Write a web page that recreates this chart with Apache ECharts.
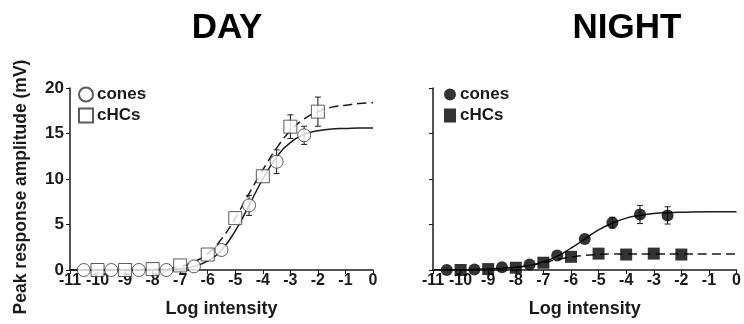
<!DOCTYPE html>
<html lang="en">
<head>
    <meta charset="UTF-8">
    <title>Day / Night response amplitude</title>
    <style>
        html, body { margin: 0; padding: 0; background: #fff; }
        #chart { width: 744px; height: 324px; }
    </style>
</head>
<body>
<div id="chart"></div>
<script src="https://cdn.jsdelivr.net/npm/echarts@6/dist/echarts.min.js"></script>
<script type="text/javascript">

    // DAY - measured points
    var dayConeX = [-10.5, -9.5, -8.5, -7.5, -6.5, -5.5, -4.5, -3.5, -2.5];
    var dayConeY = [0, 0, 0, 0, 0.4, 2.2, 7.1, 11.9, 14.8];
    var dayConeErr = [0, 0, 0, 0, 0, 0, 1.1, 1.3, 1.0];
    var dayHcX = [-10, -9, -8, -7, -6, -5, -4, -3, -2];
    var dayHcY = [0, 0, 0.1, 0.5, 1.7, 5.7, 10.3, 15.75, 17.4];
    var dayHcErr = [0, 0, 0, 0, 0, 0, 0, 1.3, 1.6];

    // DAY - fitted curves
    var dayConeFitX = [-11, -10, -9, -8, -7.5, -7, -6.5, -6, -5.5, -5, -4.5, -4, -3.5, -3, -2.5, -2, -1.5, -1, -0.5, 0];
    var dayConeFitY = [0, 0, 0, 0.02, 0.05, 0.15, 0.4, 1.0, 2.2, 4.3, 7.1, 10.0, 12.4, 14.0, 14.9, 15.3, 15.5, 15.55, 15.6, 15.6];
    var dayHcFitX = [-11, -10, -9, -8, -7.5, -7, -6.5, -6, -5.5, -5, -4.5, -4, -3.5, -3, -2.5, -2, -1.5, -1, -0.5, 0];
    var dayHcFitY = [0, 0, 0.02, 0.08, 0.15, 0.4, 0.9, 1.8, 3.4, 5.7, 8.4, 11.0, 13.4, 15.3, 16.6, 17.4, 17.9, 18.1, 18.3, 18.4];

    // NIGHT - measured points
    var nightConeX = [-10.5, -9.5, -8.5, -7.5, -6.5, -5.5, -4.5, -3.5, -2.5];
    var nightConeY = [0, 0.05, 0.3, 0.6, 1.6, 3.4, 5.2, 6.1, 6.0];
    var nightConeErr = [0, 0, 0, 0, 0, 0, 0.6, 1.0, 0.95];
    var nightHcX = [-10, -9, -8, -7, -6, -5, -4, -3, -2];
    var nightHcY = [0, 0.1, 0.25, 0.8, 1.45, 1.8, 1.7, 1.8, 1.7];

    // NIGHT - fitted curves
    var nightConeFitX = [-11, -10, -9, -8, -7.5, -7, -6.5, -6, -5.5, -5, -4.5, -4, -3.5, -3, -2.5, -2, -1, 0];
    var nightConeFitY = [0, 0.02, 0.1, 0.3, 0.5, 0.9, 1.5, 2.4, 3.4, 4.4, 5.15, 5.7, 6.0, 6.2, 6.3, 6.35, 6.4, 6.4];
    var nightHcFitX = [-11, -10, -9, -8, -7.5, -7, -6.5, -6, -5.5, -5, -4.5, -4, -3, -2, -1, 0];
    var nightHcFitY = [0, 0.02, 0.1, 0.3, 0.5, 0.8, 1.15, 1.4, 1.6, 1.7, 1.75, 1.75, 1.75, 1.75, 1.75, 1.75];

    var titles = ['DAY', 'NIGHT'];
    var yName = 'Peak response amplitude (mV)';
    var xName = 'Log intensity';

    var FONT = '"Liberation Sans", Arial, sans-serif';
    var INK = '#1a1a1a';

    function pairs(xs, ys) {
        return xs.map(function (x, i) { return [x, ys[i]]; });
    }
    function errData(xs, ys, es) {
        var out = [];
        xs.forEach(function (x, i) {
            if (es[i] > 0) out.push([x, ys[i] - es[i], ys[i] + es[i]]);
        });
        return out;
    }

    function errSeries(idx, data) {
        return {
            type: 'custom',
            xAxisIndex: idx, yAxisIndex: idx,
            data: data,
            silent: true,
            z: 3,
            renderItem: function (params, api) {
                var lo = api.coord([api.value(0), api.value(1)]);
                var hi = api.coord([api.value(0), api.value(2)]);
                var cap = 3;
                var st = { stroke: INK, lineWidth: 1 };
                return {
                    type: 'group',
                    children: [
                        { type: 'line', shape: { x1: lo[0], y1: lo[1], x2: hi[0], y2: hi[1] }, style: st },
                        { type: 'line', shape: { x1: lo[0] - cap, y1: lo[1], x2: lo[0] + cap, y2: lo[1] }, style: st },
                        { type: 'line', shape: { x1: hi[0] - cap, y1: hi[1], x2: hi[0] + cap, y2: hi[1] }, style: st }
                    ]
                };
            }
        };
    }

    function fitSeries(idx, data, dashed) {
        return {
            type: 'line',
            xAxisIndex: idx, yAxisIndex: idx,
            data: data,
            smooth: true,
            symbol: 'none',
            silent: true,
            z: 2,
            lineStyle: { color: INK, width: 1.5, type: dashed ? [9, 5] : 'solid' }
        };
    }

    function xAxisOf(idx) {
        return {
            type: 'value', gridIndex: idx,
            min: -11, max: 0, interval: 1,
            name: xName, nameLocation: 'middle', nameGap: 30,
            nameTextStyle: { fontFamily: FONT, fontWeight: 'bold', fontSize: 18, color: INK },
            axisLine: { onZero: false, lineStyle: { color: INK, width: 1.5 } },
            axisTick: { length: 4, lineStyle: { color: INK, width: 1 } },
            axisLabel: { fontFamily: FONT, fontWeight: 'bold', fontSize: 16, color: INK, margin: 3 },
            splitLine: { show: false }
        };
    }

    function yAxisOf(idx, labelled) {
        return {
            type: 'value', gridIndex: idx,
            min: 0, max: 20, interval: 5,
            position: 'left',
            name: labelled ? yName : '', nameLocation: 'middle', nameGap: 40,
            nameTextStyle: { fontFamily: FONT, fontWeight: 'bold', fontSize: 17.5, color: INK, padding: [0, 16, 0, 0] },
            axisLine: { show: true, onZero: false, lineStyle: { color: INK, width: 1.5 } },
            axisTick: { show: true, length: 4, lineStyle: { color: INK, width: 1 } },
            axisLabel: { show: labelled, fontFamily: FONT, fontWeight: 'bold', fontSize: 17, color: INK, margin: 6 },
            splitLine: { show: false }
        };
    }

    var chart = echarts.init(document.getElementById('chart'), null, { renderer: 'canvas' });
    chart.setOption({
        backgroundColor: '#fff',
        animation: false,
        title: [
            { text: titles[0], left: 222, top: 6, textAlign: 'center',
              textStyle: { fontFamily: FONT, fontWeight: 'bold', fontSize: 35, color: '#000' } },
            { text: titles[1], left: 622, top: 6, textAlign: 'center',
              textStyle: { fontFamily: FONT, fontWeight: 'bold', fontSize: 35, color: '#000' } }
        ],
        legend: [
            { data: ['day-cones', 'day-cHCs'], orient: 'vertical', left: 78, top: 86, padding: 0,
              itemWidth: 14, itemHeight: 14, itemGap: 4, selectedMode: false,
              formatter: function (n) { return n.replace('day-', ''); },
              textStyle: { fontFamily: FONT, fontWeight: 'bold', fontSize: 17, color: INK, padding: [0, 0, 0, -1] } },
            { data: ['night-cones', 'night-cHCs'], orient: 'vertical', left: 444, top: 86, padding: 0,
              itemWidth: 12, itemHeight: 14, itemGap: 4, selectedMode: false,
              formatter: function (n) { return n.replace('night-', ''); },
              textStyle: { fontFamily: FONT, fontWeight: 'bold', fontSize: 17, color: INK, padding: [0, 0, 0, -1] } }
        ],
        grid: [
            { left: 70, right: 371, top: 88, bottom: 54 },
            { left: 433, right: 6, top: 88, bottom: 54 }
        ],
        xAxis: [xAxisOf(0), xAxisOf(1)],
        yAxis: [yAxisOf(0, true), yAxisOf(1, false)],
        series: [
            fitSeries(0, pairs(dayConeFitX, dayConeFitY), false),
            fitSeries(0, pairs(dayHcFitX, dayHcFitY), true),
            fitSeries(1, pairs(nightConeFitX, nightConeFitY), false),
            fitSeries(1, pairs(nightHcFitX, nightHcFitY), true),
            errSeries(0, errData(dayConeX, dayConeY, dayConeErr)),
            errSeries(0, errData(dayHcX, dayHcY, dayHcErr)),
            errSeries(1, errData(nightConeX, nightConeY, nightConeErr)),
            {
                name: 'day-cones', type: 'scatter', xAxisIndex: 0, yAxisIndex: 0,
                data: pairs(dayConeX, dayConeY), symbol: 'circle', symbolSize: 13, z: 4,
                itemStyle: { color: '#fff', borderColor: '#333', borderWidth: 1 }
            },
            {
                name: 'day-cHCs', type: 'scatter', xAxisIndex: 0, yAxisIndex: 0,
                data: pairs(dayHcX, dayHcY), symbol: 'rect', symbolSize: 13, z: 4,
                itemStyle: { color: '#fff', borderColor: '#333', borderWidth: 1 }
            },
            {
                name: 'night-cones', type: 'scatter', xAxisIndex: 1, yAxisIndex: 1,
                data: pairs(nightConeX, nightConeY), symbol: 'circle', symbolSize: 12, z: 4,
                itemStyle: { color: '#000' }
            },
            {
                name: 'night-cHCs', type: 'scatter', xAxisIndex: 1, yAxisIndex: 1,
                data: pairs(nightHcX, nightHcY), symbol: 'rect', symbolSize: 12, z: 4,
                itemStyle: { color: '#000' }
            }
        ]
    });
</script>
</body>
</html>
